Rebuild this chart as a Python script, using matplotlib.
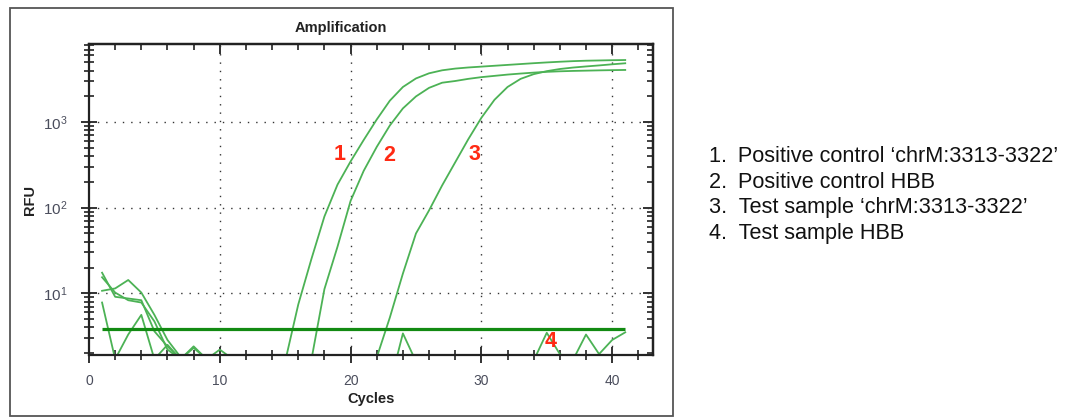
import matplotlib
matplotlib.use("Agg")
import matplotlib.pyplot as plt
from matplotlib.patches import Rectangle
from matplotlib.ticker import FixedLocator, LogLocator, NullFormatter

plt.rcParams['font.family'] = ['Liberation Sans', 'DejaVu Sans']

# ---------------- data ----------------
cycles = list(range(1, 42))

pos_ctrl_chrM = [17.4, 9.1, 8.7, 8.3, 3.6, 2.4, 1.7, 2.4, 1.7, 1.9,
                 1.6, 1.2, 1.2, 1.2, 1.6, 7.4, 25, 79, 186, 347,
                 617, 1072, 1778, 2570, 3236, 3715, 4027, 4217, 4345, 4446,
                 4550, 4656, 4764, 4875, 4977, 5070, 5152, 5212, 5248, 5284,
                 5309]
pos_ctrl_HBB = [15.4, 10.2, 8.3, 7.8, 4.7, 2.2, 1.7, 2.3, 1.7, 2.2,
                1.7, 1.2, 1.2, 1.2, 1.2, 1.2, 1.66, 11.2, 35, 120,
                269, 513, 912, 1445, 1995, 2512, 2884, 3020, 3199, 3350,
                3467, 3589, 3690, 3784, 3864, 3920, 3960, 3990, 4020, 4045,
                4065]
test_chrM = [10.7, 11.4, 14.3, 10.2, 5.6, 2.85, 1.8, 1.7, 1.6, 1.2,
             1.2, 1.2, 1.2, 1.2, 1.2, 1.2, 1.2, 1.2, 1.2, 1.2,
             1.2, 1.78, 5.2, 17, 50, 93, 182, 339, 631, 1122,
             1820, 2570, 3199, 3631, 3936, 4169, 4335, 4467, 4592, 4732,
             4864]
test_HBB = [7.8, 1.7, 3.3, 5.6, 1.7, 2.5, 1.7, 1.2, 1.2, 1.2,
            1.2, 1.2, 1.2, 1.2, 1.2, 1.2, 1.2, 1.2, 1.2, 1.2,
            1.2, 1.2, 0.85, 3.4, 1.6, 1.2, 1.2, 1.2, 1.2, 1.2,
            1.2, 1.2, 1.2, 1.64, 3.46, 1.95, 1.66, 3.3, 1.95, 2.85,
            3.5]

threshold_cycles = [1, 41]
threshold_rfu = 3.8

curve_labels = ['1', '2', '3', '4']
label_cycles = [19.2, 22.95, 29.5, 35.3]
label_rfu = [418, 409, 418, 2.73]

legend_lines = ["1.\u2002Positive control \u2018chrM:3313-3322\u2019",
                "2.\u2002Positive control HBB",
                "3.  Test sample \u2018chrM:3313-3322\u2019",
                "4.  Test sample HBB"]

x_major = [0, 10, 20, 30, 40]
x_minor = list(range(0, 44, 2))
y_major = [10, 100, 1000]

# ---------------- figure ----------------
W, H = 1071, 418
fig = plt.figure(figsize=(W / 100, H / 100), dpi=100)
fig.patch.set_facecolor('white')

def fx(px):
    return px / W

def fy(py):
    return 1 - py / H

ax = fig.add_axes([fx(89), fy(355.3), fx(652.7) - fx(89), fy(44) - fy(355.3)])
ax.set_yscale('log')
ax.set_xlim(0, 43.1)
ax.set_ylim(1.887, 8170)

curve_color = '#4cb255'
for series in [pos_ctrl_chrM, pos_ctrl_HBB, test_chrM, test_HBB]:
    ax.plot(cycles, series, color=curve_color, lw=1.3)

ax.plot(threshold_cycles, [threshold_rfu] * len(threshold_cycles),
        color='#128a12', lw=2.3, solid_capstyle='butt')

for lab, cx, cy in zip(curve_labels, label_cycles, label_rfu):
    ax.text(cx, cy, lab, color='#ff2a14', fontsize=15.5, fontweight='bold',
            ha='center', va='center')

# grid
for xv in [10, 20, 30, 40]:
    ax.axvline(xv, color='#333333', lw=1.0, ls=(0, (1, 5)), zorder=0.5)
for yv in y_major:
    ax.axhline(yv, color='#333333', lw=1.0, ls=(0, (1, 5)), zorder=0.5)

# spines
for s in ax.spines.values():
    s.set_color('#222222')
    s.set_linewidth(1.6)

tick_color = '#222222'
label_color = '#4a4d5c'
ax.xaxis.set_major_locator(FixedLocator(x_major))
ax.xaxis.set_minor_locator(FixedLocator(x_minor))
ax.yaxis.set_major_locator(FixedLocator(y_major))
ax.yaxis.set_minor_locator(LogLocator(base=10, subs=[2, 3, 4, 5, 6, 7, 8, 9], numticks=20))
ax.yaxis.set_minor_formatter(NullFormatter())
ax.set_xticklabels([str(v) for v in x_major])
ax.set_yticklabels([r'$\mathregular{10^{%d}}$' % i for i in [1, 2, 3]])
ax.tick_params(axis='both', which='major', direction='inout', length=11, width=1.3,
               color=tick_color, labelcolor=label_color)
ax.tick_params(axis='both', which='minor', direction='inout', length=7, width=1.2,
               color=tick_color)
ax.tick_params(axis='x', which='major', pad=8, labelsize=10)
ax.tick_params(axis='y', which='major', pad=10, labelsize=11)

# top / right inward ticks
secx = ax.secondary_xaxis('top')
secx.xaxis.set_major_locator(FixedLocator(x_major))
secx.xaxis.set_minor_locator(FixedLocator(x_minor))
secx.tick_params(which='major', direction='in', length=7, width=1.3, color=tick_color,
                 labeltop=False)
secx.tick_params(which='minor', direction='in', length=4.5, width=1.2, color=tick_color)
secx.spines['top'].set_linewidth(1.6)

secy = ax.secondary_yaxis('right')
secy.yaxis.set_major_locator(FixedLocator(y_major))
secy.yaxis.set_minor_locator(LogLocator(base=10, subs=[2, 3, 4, 5, 6, 7, 8, 9], numticks=20))
secy.yaxis.set_minor_formatter(NullFormatter())
secy.tick_params(which='major', direction='in', length=7, width=1.3, color=tick_color,
                 labelright=False)
secy.tick_params(which='minor', direction='in', length=4.5, width=1.2, color=tick_color)
secy.spines['right'].set_linewidth(1.6)

# titles
fig.text(fx(341), fy(28), 'Amplification', ha='center', va='center',
         fontsize=10.5, fontweight='bold', color='#222222')
fig.text(fx(371), fy(399), 'Cycles', ha='center', va='center',
         fontsize=10.5, fontweight='bold', color='#222222')
fig.text(fx(30), fy(200), 'RFU', ha='center', va='center', rotation=90,
         fontsize=10.5, fontweight='bold', color='#222222')

# outer frame
fig.patches.append(Rectangle((fx(10), fy(416)), fx(672.5) - fx(10), fy(7.5) - fy(416),
                             transform=fig.transFigure, fill=False,
                             edgecolor='#555555', lw=1.3))

# legend text
for i, line in enumerate(legend_lines):
    fig.text(fx(709), fy(157 + 25.5 * i), line, ha='left', va='center',
             fontsize=15.6, color='#111111')

fig.savefig('out.png', dpi=100)
